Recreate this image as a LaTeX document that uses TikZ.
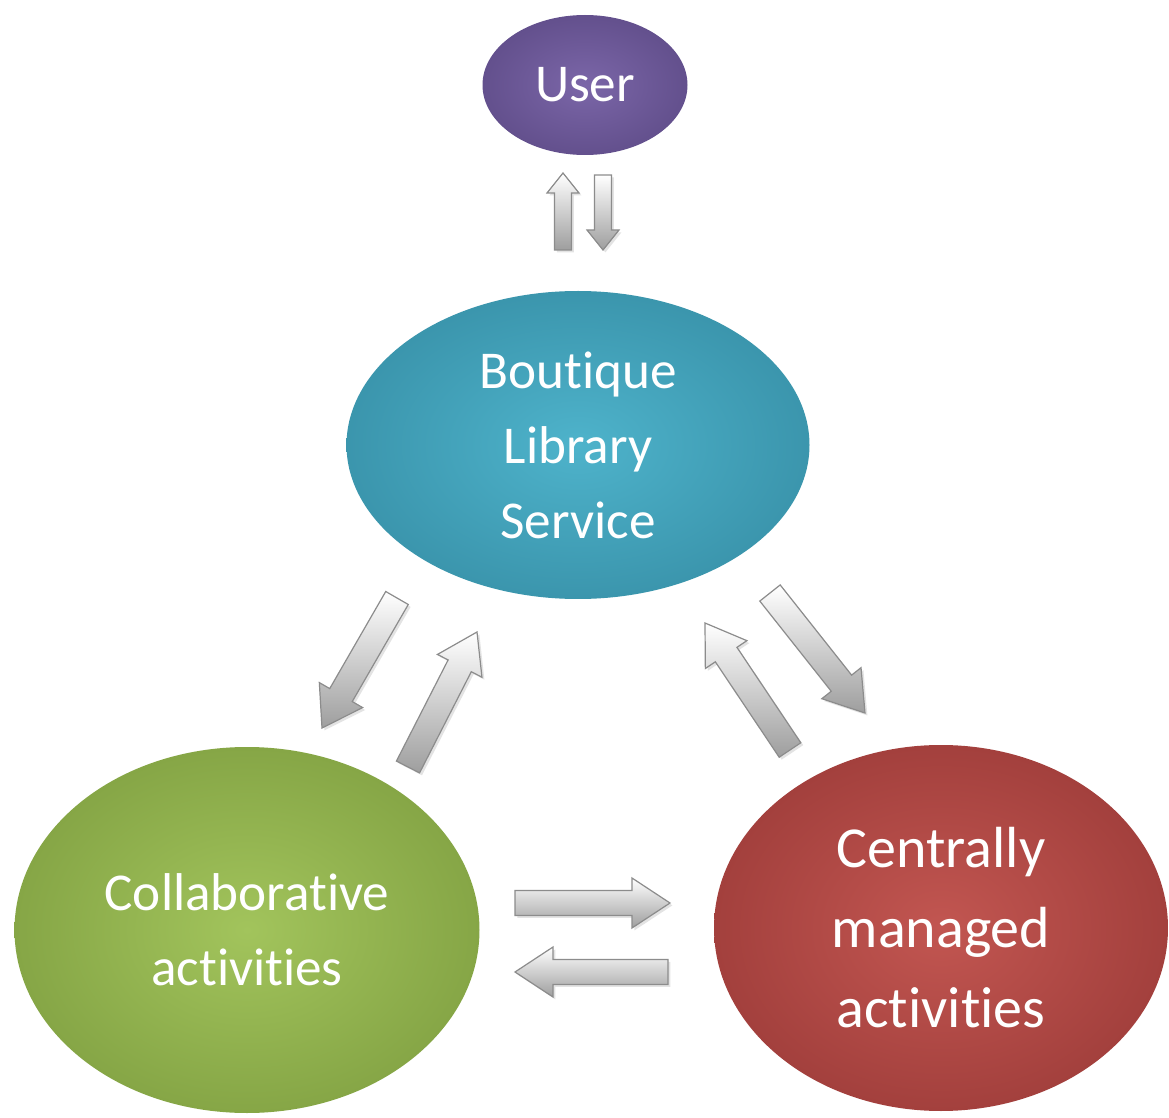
\documentclass[tikz,border=0pt]{standalone}
\usepackage{fontspec}
\setmainfont{Carlito}[Ligatures=NoCommon]
\usetikzlibrary{shapes.geometric,calc,shadows}

% fill colours of the four circles (light centre, dark rim)
\definecolor{userL}{HTML}{7B66A8}
\definecolor{userD}{HTML}{4B3A72}
\definecolor{bookL}{HTML}{4EB3CB}
\definecolor{bookD}{HTML}{28788F}
\definecolor{collL}{HTML}{A2C45C}
\definecolor{collD}{HTML}{6A8830}
\definecolor{centL}{HTML}{C25651}
\definecolor{centD}{HTML}{842A29}

\pgfdeclareradialshading{userglow}{\pgfpointorigin}{color(0bp)=(userL); color(50bp)=(userD); color(72bp)=(userD)}
\pgfdeclareradialshading{bookglow}{\pgfpointorigin}{color(0bp)=(bookL); color(50bp)=(bookD); color(72bp)=(bookD)}
\pgfdeclareradialshading{collglow}{\pgfpointorigin}{color(0bp)=(collL); color(50bp)=(collD); color(72bp)=(collD)}
\pgfdeclareradialshading{centglow}{\pgfpointorigin}{color(0bp)=(centL); color(50bp)=(centD); color(72bp)=(centD)}

% block arrow: tail, tip, half shaft width, half head width, head length
\newcommand{\blockarrow}[5]{%
  \coordinate (ba-h) at ($(#2)!#5!(#1)$);
  \path[arrowbody]
    ($(#1)!#3!90:(#2)$) -- ($(ba-h)!#3!90:(#2)$) -- ($(ba-h)!#4!90:(#2)$)
    -- (#2)
    -- ($(ba-h)!#4!-90:(#2)$) -- ($(ba-h)!#3!-90:(#2)$) -- ($(#1)!#3!-90:(#2)$)
    -- cycle;
}

\tikzset{
  bubble/.style={ellipse, inner sep=0pt, align=center, text=white!94,
    font=\fontsize{26.6}{37.5}\selectfont},
  arrowbody/.style={draw=black!45, line width=0.6pt, line join=miter,
    top color=white, bottom color=black!38,
    drop shadow={shadow xshift=1.2pt, shadow yshift=-1.2pt, opacity=0.22}},
}

\begin{document}
\begin{tikzpicture}[x=0.5pt, y=-0.5pt]
\useasboundingbox[fill=white] (0,0) rectangle (1169,1118);

% circles
\node[bubble, shading=userglow, minimum width=102.5pt, minimum height=70pt] (user) at (585,85) {User};
\node[bubble, shading=bookglow, minimum width=231.5pt, minimum height=154pt] (lib) at (578,445) {Boutique\\Library\\Service};
\node[bubble, shading=collglow, minimum width=232.5pt, minimum height=183pt] (coll) at (247,930) {Collaborative\\activities};
\node[bubble, shading=centglow, minimum width=227pt, minimum height=183pt,
      font=\fontsize{29}{40}\selectfont] (cent) at (941,928) {Centrally\\managed\\activities};

% arrow ends
\coordinate (uUpTail) at (563,250);  \coordinate (uUpTip) at (563,173);
\coordinate (uDnTail) at (603,175);  \coordinate (uDnTip) at (603,250);
\coordinate (cDnTail) at (397,598);  \coordinate (cDnTip) at (322,728);
\coordinate (cUpTail) at (408,767);  \coordinate (cUpTip) at (477,632);
\coordinate (rUpTail) at (790,750);  \coordinate (rUpTip) at (705,623);
\coordinate (rDnTail) at (770,593);  \coordinate (rDnTip) at (865,713);
\coordinate (hRtTail) at (515,903);  \coordinate (hRtTip) at (670,903);
\coordinate (hLtTail) at (668,972);  \coordinate (hLtTip) at (515,972);

% user <-> library service
\blockarrow{uUpTail}{uUpTip}{4.25pt}{8pt}{10pt}
\blockarrow{uDnTail}{uDnTip}{4.25pt}{8pt}{10pt}
% library service <-> collaborative activities
\blockarrow{cDnTail}{cDnTip}{6.5pt}{12.5pt}{19pt}
\blockarrow{cUpTail}{cUpTip}{6.5pt}{12.5pt}{19pt}
% library service <-> centrally managed activities
\blockarrow{rUpTail}{rUpTip}{6.5pt}{12.5pt}{19pt}
\blockarrow{rDnTail}{rDnTip}{6.5pt}{12.5pt}{19pt}
% collaborative <-> centrally managed
\blockarrow{hRtTail}{hRtTip}{6.25pt}{12.5pt}{19pt}
\blockarrow{hLtTail}{hLtTip}{6.25pt}{12.5pt}{19pt}
\end{tikzpicture}
\end{document}
